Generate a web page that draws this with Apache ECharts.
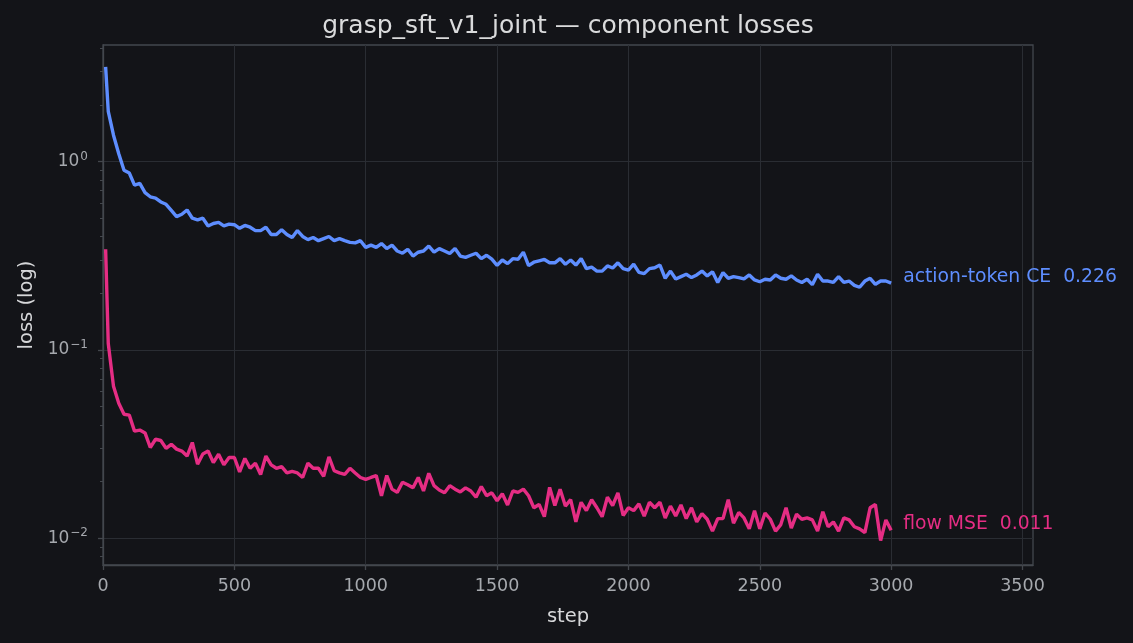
<!DOCTYPE html>
<html>
<head>
<meta charset="utf-8">
<script src="https://cdn.jsdelivr.net/npm/echarts@6/dist/echarts.min.js"></script>
<style>
  html, body { margin: 0; padding: 0; background: #131418; }
  #chart { width: 1133px; height: 643px; }
</style>
</head>
<body>
<div id="chart"></div>
<script>
// training steps (first log at 10, then every 20)
var steps = [10,
  20, 40, 60, 80, 100, 120, 140, 160, 180, 200,
  220, 240, 260, 280, 300, 320, 340, 360, 380, 400,
  420, 440, 460, 480, 500, 520, 540, 560, 580, 600,
  620, 640, 660, 680, 700, 720, 740, 760, 780, 800,
  820, 840, 860, 880, 900, 920, 940, 960, 980, 1000,
  1020, 1040, 1060, 1080, 1100, 1120, 1140, 1160, 1180, 1200,
  1220, 1240, 1260, 1280, 1300, 1320, 1340, 1360, 1380, 1400,
  1420, 1440, 1460, 1480, 1500, 1520, 1540, 1560, 1580, 1600,
  1620, 1640, 1660, 1680, 1700, 1720, 1740, 1760, 1780, 1800,
  1820, 1840, 1860, 1880, 1900, 1920, 1940, 1960, 1980, 2000,
  2020, 2040, 2060, 2080, 2100, 2120, 2140, 2160, 2180, 2200,
  2220, 2240, 2260, 2280, 2300, 2320, 2340, 2360, 2380, 2400,
  2420, 2440, 2460, 2480, 2500, 2520, 2540, 2560, 2580, 2600,
  2620, 2640, 2660, 2680, 2700, 2720, 2740, 2760, 2780, 2800,
  2820, 2840, 2860, 2880, 2900, 2920, 2940, 2960, 2980, 3000];

var actionCE = [3.18,
  1.85, 1.38, 1.10, 0.90, 0.87, 0.75, 0.765, 0.684, 0.65, 0.64,
  0.61, 0.593, 0.55, 0.51, 0.525, 0.553, 0.50, 0.49, 0.50, 0.455,
  0.469, 0.475, 0.455, 0.465, 0.462, 0.442, 0.458, 0.448, 0.43, 0.43,
  0.448, 0.41, 0.41, 0.435, 0.41, 0.395, 0.43, 0.40, 0.385, 0.395,
  0.38, 0.39, 0.40, 0.38, 0.39, 0.38, 0.372, 0.37, 0.38, 0.35,
  0.36, 0.35, 0.367, 0.345, 0.36, 0.335, 0.326, 0.342, 0.315, 0.33,
  0.335, 0.356, 0.33, 0.345, 0.335, 0.325, 0.345, 0.315, 0.31, 0.318,
  0.326, 0.305, 0.318, 0.303, 0.281, 0.30, 0.287, 0.305, 0.303, 0.33,
  0.28, 0.292, 0.297, 0.302, 0.29, 0.29, 0.305, 0.285, 0.30, 0.282,
  0.305, 0.27, 0.275, 0.262, 0.262, 0.279, 0.272, 0.29, 0.27, 0.265,
  0.285, 0.258, 0.254, 0.27, 0.273, 0.282, 0.24, 0.262, 0.238, 0.245,
  0.252, 0.242, 0.25, 0.262, 0.247, 0.26, 0.228, 0.257, 0.24, 0.245,
  0.242, 0.238, 0.25, 0.235, 0.23, 0.237, 0.235, 0.25, 0.24, 0.237,
  0.247, 0.235, 0.228, 0.237, 0.222, 0.252, 0.232, 0.232, 0.228, 0.245,
  0.228, 0.232, 0.22, 0.215, 0.232, 0.24, 0.223, 0.232, 0.232, 0.226];

var flowMSE = [0.342,
  0.108, 0.064, 0.052, 0.0455, 0.045, 0.037, 0.0375, 0.0362, 0.0303, 0.0335,
  0.033, 0.030, 0.0315, 0.0297, 0.029, 0.0273, 0.0322, 0.0247, 0.028, 0.029,
  0.0252, 0.0279, 0.0245, 0.0268, 0.0268, 0.0225, 0.0265, 0.0235, 0.025, 0.0218,
  0.0273, 0.0245, 0.0235, 0.024, 0.0222, 0.0226, 0.0222, 0.021, 0.025, 0.0235,
  0.0235, 0.0213, 0.027, 0.0228, 0.0222, 0.0218, 0.0235, 0.0222, 0.021, 0.0205,
  0.021, 0.0215, 0.0168, 0.0215, 0.0182, 0.0175, 0.0198, 0.0192, 0.0185, 0.021,
  0.0178, 0.0221, 0.019, 0.018, 0.0174, 0.019, 0.0182, 0.0176, 0.0185, 0.0178,
  0.0165, 0.0188, 0.0168, 0.0174, 0.0158, 0.0172, 0.015, 0.0178, 0.0175, 0.0182,
  0.0168, 0.0145, 0.0151, 0.013, 0.0186, 0.0149, 0.0182, 0.0148, 0.016, 0.0122,
  0.0155, 0.014, 0.016, 0.0145, 0.013, 0.0165, 0.0149, 0.0174, 0.0132, 0.0145,
  0.014, 0.0152, 0.0131, 0.0155, 0.0145, 0.0155, 0.0128, 0.0148, 0.0131, 0.015,
  0.0127, 0.0145, 0.0122, 0.0135, 0.0126, 0.0109, 0.0127, 0.0127, 0.016, 0.012,
  0.0137, 0.0128, 0.0112, 0.014, 0.0112, 0.0136, 0.0126, 0.0109, 0.0118, 0.0145,
  0.0113, 0.0134, 0.0126, 0.0128, 0.0125, 0.0109, 0.0138, 0.0115, 0.0122, 0.0109,
  0.0128, 0.0125, 0.0115, 0.0112, 0.0107, 0.0145, 0.0151, 0.0097, 0.0125, 0.011];

var xTicks = [0, 500, 1000, 1500, 2000, 2500, 3000, 3500];
var yMajor = [0.01, 0.1, 1];
var yMinor = [0.008, 0.009,
  0.02, 0.03, 0.04, 0.05, 0.06, 0.07, 0.08, 0.09,
  0.2, 0.3, 0.4, 0.5, 0.6, 0.7, 0.8, 0.9,
  2, 3, 4];

var FONT = '"DejaVu Sans", sans-serif';
var tickColor = '#a6a9ae';
var spineColor = '#43474d';
var gridColor = '#2a2d33';

function pairs(ys) {
  return steps.map(function (s, i) { return [s, ys[i]]; });
}

function lineSeries(name, ys, color) {
  return {
    name: name,
    type: 'line',
    data: pairs(ys),
    showSymbol: false,
    lineStyle: { color: color, width: 3.4 },
    itemStyle: { color: color },
    endLabel: {
      show: true,
      distance: 12,
      offset: [0, -6],
      color: color,
      fontFamily: FONT,
      fontSize: 18.8,
      formatter: function (p) {
        return p.seriesName + '  ' + p.value[1].toFixed(3);
      }
    }
  };
}

var chart = echarts.init(document.getElementById('chart'));
chart.setOption({
  backgroundColor: '#131418',
  animation: false,
  title: {
    text: 'grasp_sft_v1_joint \u2014 component losses',
    left: 563,
    textAlign: 'center',
    top: 9,
    textStyle: { color: '#dadbdc', fontFamily: FONT, fontSize: 25, fontWeight: 'normal' }
  },
  grid: {
    left: 103, right: 100, top: 45, bottom: 78,
    show: true, borderColor: spineColor, borderWidth: 1.3
  },
  xAxis: {
    type: 'value',
    min: 0, max: 3540, interval: 500,
    name: 'step',
    nameLocation: 'middle',
    nameGap: 42,
    nameTextStyle: { color: '#d6d7d9', fontFamily: FONT, fontSize: 19.5 },
    axisLine: { show: true, lineStyle: { color: spineColor, width: 1.3 } },
    axisTick: { show: true, length: 5, lineStyle: { color: spineColor, width: 1.3 }, customValues: xTicks },
    axisLabel: {
      color: tickColor, fontFamily: FONT, fontSize: 17.5, margin: 12,
      customValues: xTicks,
      formatter: function (v) { return String(v); }
    },
    splitLine: { show: true, lineStyle: { color: gridColor, width: 1 } }
  },
  yAxis: [{
    type: 'log',
    logBase: 10,
    min: 0.0072, max: 4.16,
    name: 'loss (log)',
    nameLocation: 'middle',
    nameGap: 66,
    nameTextStyle: { color: '#d6d7d9', fontFamily: FONT, fontSize: 19.5 },
    axisLine: { show: true, lineStyle: { color: spineColor, width: 1.3 } },
    axisTick: { show: true, length: 5, lineStyle: { color: spineColor, width: 1.3 }, customValues: yMajor },
    axisLabel: {
      color: tickColor, fontFamily: FONT, fontSize: 17, margin: 15,
      customValues: yMajor,
      formatter: function (v) {
        var e = Math.round(Math.log10(v));
        return '10{sup|' + String(e).replace('-', '\u2212') + '}';
      },
      rich: {
        sup: { color: tickColor, fontFamily: FONT, fontSize: 12, verticalAlign: 'top', padding: [0, 0, 10, 1] }
      }
    },
    splitLine: { show: true, lineStyle: { color: gridColor, width: 1 } }
  }, {
    type: 'log',
    logBase: 10,
    min: 0.0072, max: 4.16,
    position: 'left',
    axisLine: { show: false },
    axisTick: { show: true, length: 3, lineStyle: { color: spineColor }, customValues: yMinor },
    axisLabel: { show: false },
    splitLine: { show: false }
  }],
  series: [
    lineSeries('action-token CE', actionCE, '#5e8eff'),
    lineSeries('flow MSE', flowMSE, '#e52d84')
  ]
});
</script>
</body>
</html>
